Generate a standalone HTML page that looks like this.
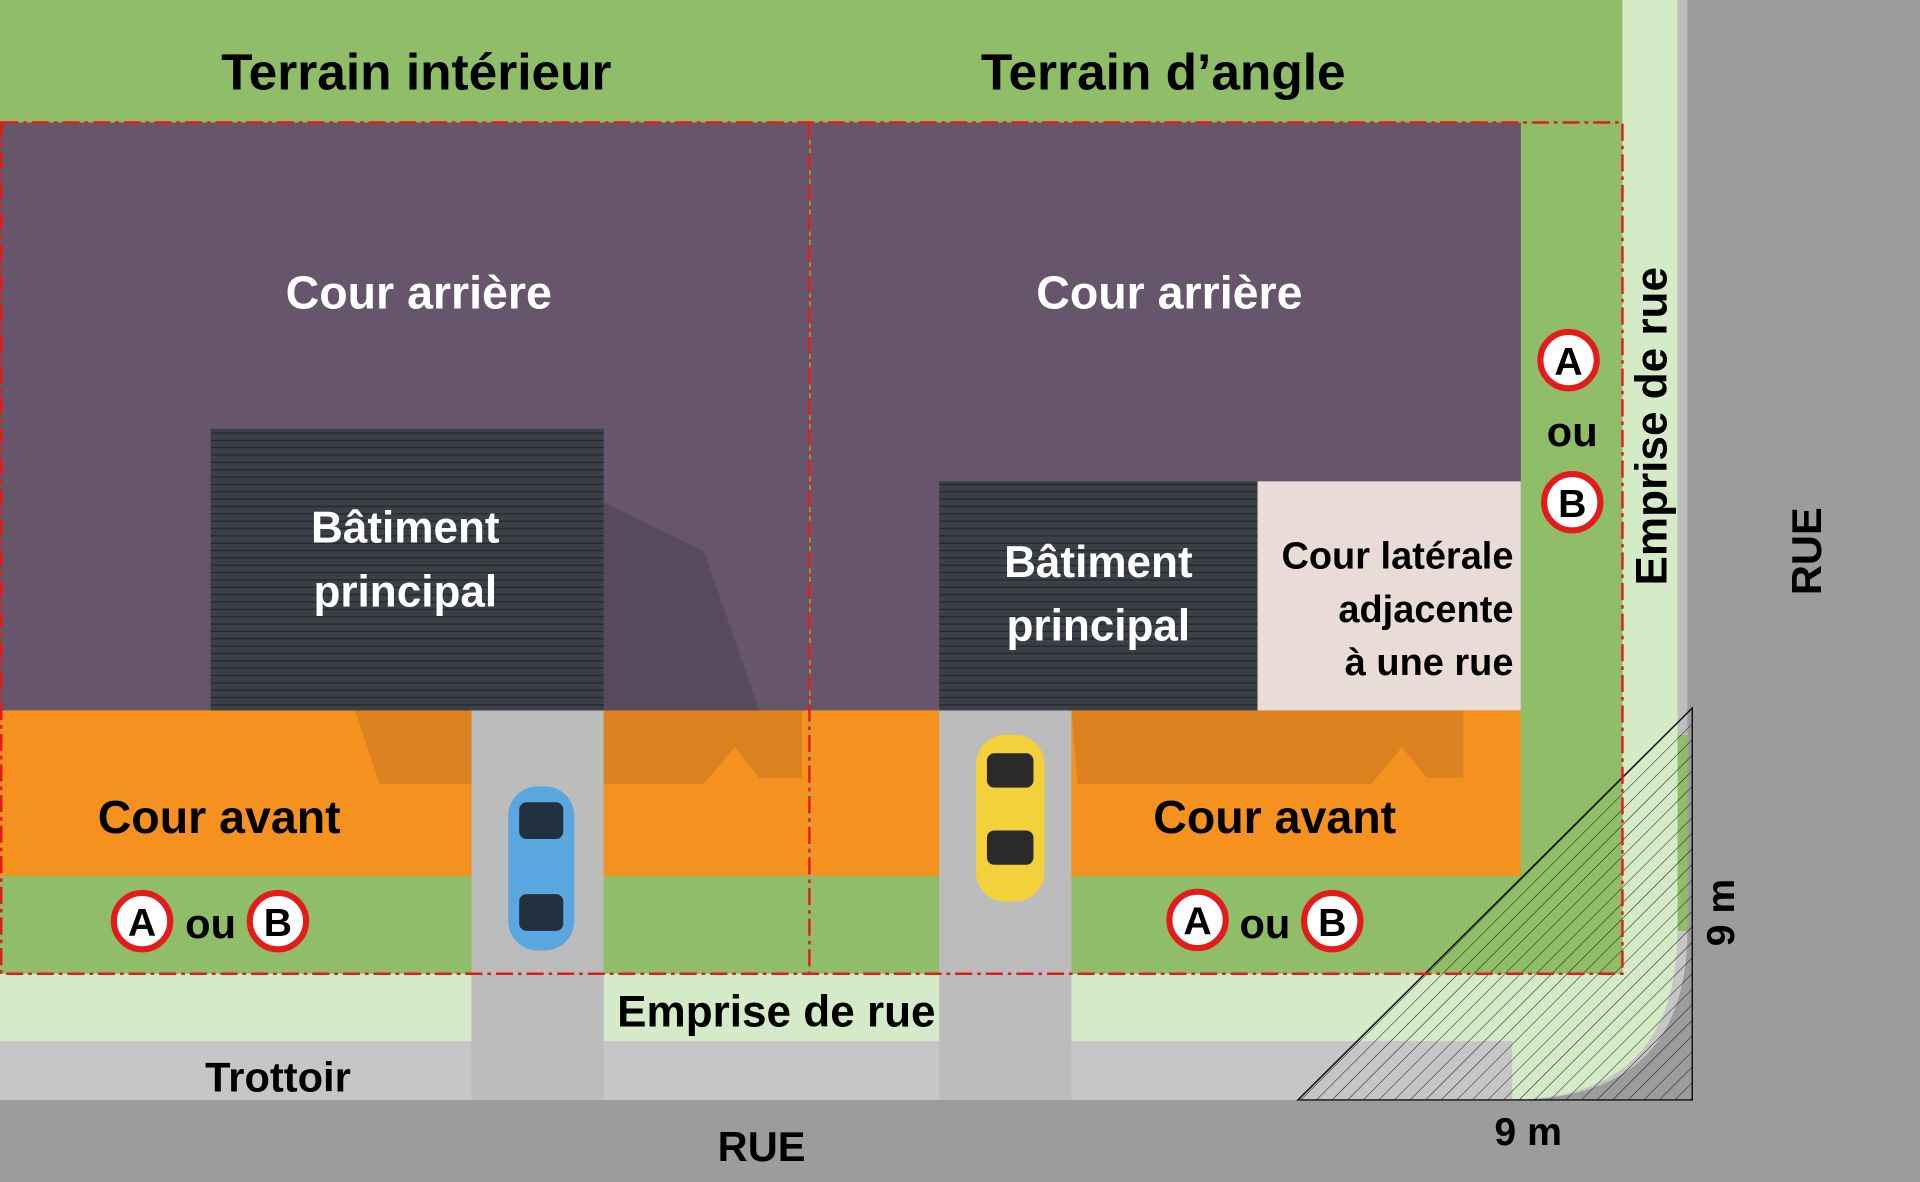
<!DOCTYPE html>
<html><head><meta charset="utf-8"><style>
html,body{margin:0;padding:0;width:1920px;height:1182px;overflow:hidden;background:#8fbd68}
svg{display:block}
text{font-family:"Liberation Sans",sans-serif;font-weight:bold}
</style></head><body>
<svg width="1920" height="1182" viewBox="0 0 1568 965" preserveAspectRatio="none" xmlns="http://www.w3.org/2000/svg">
<defs>
<pattern id="h" patternUnits="userSpaceOnUse" width="9" height="9" patternTransform="rotate(45)">
<line x1="0" y1="0" x2="0" y2="9" stroke="#111" stroke-width="0.8"/>
</pattern>
<pattern id="roof" patternUnits="userSpaceOnUse" width="10" height="6">
<rect width="10" height="6" fill="#3b4047"/><line x1="0" y1="5.5" x2="10" y2="5.5" stroke="#23272c" stroke-width="1"/>
</pattern>
</defs>
<rect width="1568" height="965" fill="#8fbd68"/>
<rect x="1378" y="0" width="190" height="965" fill="#9c9c9c"/>
<rect x="0" y="898" width="1568" height="67" fill="#9c9c9c"/>
<rect x="1232" y="760" width="146" height="140" fill="#9c9c9c"/>
<rect x="1370" y="0" width="8" height="600" fill="#bdbdbd"/>
<path d="M1325 0 H1370 V760 Q1370 898 1232 898 H0 V795 H1325 Z" fill="#d5ebc8"/>
<rect x="0" y="850" width="1235" height="48" fill="#c6c6c6"/>
<path d="M1370 760 Q1370 898 1232 898 L1235 898 Q1378 898 1378 760 Z" fill="#c6c6c6"/>
<rect x="1230" y="100" width="95" height="695" fill="#8fbd68"/>
<rect x="0" y="100" width="661" height="480" fill="#67566b"/>
<rect x="662" y="100" width="580" height="480" fill="#67566b"/>
<rect x="0" y="580" width="661" height="135" fill="#f5921f"/>
<rect x="662" y="580" width="580" height="135" fill="#f5921f"/>
<path d="M290 580 H655 V635 H620 L600 610 L575 640 H310 Z" fill="#d87f1f" opacity="0.9"/>
<path d="M875 580 H1195 V635 H1165 L1145 610 L1120 640 H880 Z" fill="#d87f1f" opacity="0.9"/>
<path d="M493 410 L575 450 L620 580 H493 Z" fill="#5a4a5e"/>
<rect x="385" y="580" width="108" height="318" fill="#bcbcbc"/>
<rect x="767" y="580" width="108" height="318" fill="#bcbcbc"/>
<rect x="172" y="350" width="321" height="230" fill="url(#roof)"/>
<rect x="767" y="393" width="260" height="187" fill="url(#roof)"/>
<rect x="1027" y="393" width="215" height="187" fill="#e9dcd7"/>
<rect x="415" y="642" width="54" height="134" rx="24" fill="#5aa7df"/>
<rect x="424" y="655" width="36" height="30" rx="6" fill="#223040"/>
<rect x="424" y="730" width="36" height="30" rx="6" fill="#223040"/>
<rect x="797" y="600" width="56" height="136" rx="24" fill="#f2d13a"/>
<rect x="806" y="615" width="38" height="28" rx="6" fill="#2a2a2a"/>
<rect x="806" y="678" width="38" height="28" rx="6" fill="#2a2a2a"/>
<path d="M1060 898 L1382 578 L1382 898 Z" fill="url(#h)" stroke="#111" stroke-width="1.2"/>
<g fill="none" stroke="#e41b1b" stroke-width="2" stroke-dasharray="14 4 3 4">
<rect x="1" y="100" width="1324" height="695"/>
<line x1="661" y1="100" x2="661" y2="795"/>
</g>
<g fill="#000" font-size="42">
<text x="340" y="73" text-anchor="middle">Terrain intérieur</text>
<text x="950" y="73" text-anchor="middle">Terrain d’angle</text>
</g>
<g fill="#fff" font-size="38" text-anchor="middle">
<text x="342" y="252">Cour arrière</text>
<text x="955" y="252">Cour arrière</text>
</g>
<g fill="#fff" font-size="36" text-anchor="middle">
<text x="331" y="443">Bâtiment</text>
<text x="331" y="495">principal</text>
<text x="897" y="471">Bâtiment</text>
<text x="897" y="523">principal</text>
</g>
<g fill="#000" font-size="31" text-anchor="end">
<text x="1236" y="464">Cour latérale</text>
<text x="1236" y="508">adjacente</text>
<text x="1236" y="551">à une rue</text>
</g>
<g fill="#000" font-size="38" text-anchor="middle">
<text x="179" y="680">Cour avant</text>
<text x="1041" y="680">Cour avant</text>
</g>
<g fill="#000" font-size="36">
<text x="634" y="838" text-anchor="middle">Emprise de rue</text>
<text x="227" y="891" text-anchor="middle" font-size="34">Trottoir</text>
<text x="622" y="948" text-anchor="middle" font-size="34">RUE</text>
<text x="1248" y="935" text-anchor="middle" font-size="32">9 m</text>
<text transform="translate(1361,348) rotate(-90)" text-anchor="middle">Emprise de rue</text>
<text transform="translate(1487,450) rotate(-90)" text-anchor="middle" font-size="34">RUE</text>
<text transform="translate(1416,745) rotate(-90)" text-anchor="middle" font-size="32">9 m</text>
</g>
<g font-size="32" text-anchor="middle">
<g stroke="#e41b1b" stroke-width="5" fill="#fff">
<circle cx="116" cy="752" r="23"/><circle cx="227" cy="752" r="23"/>
<circle cx="978" cy="751" r="23"/><circle cx="1088" cy="752" r="23"/>
<circle cx="1281" cy="294" r="23"/><circle cx="1284" cy="410" r="23"/>
</g>
<g fill="#000">
<text x="116" y="764">A</text><text x="227" y="764">B</text>
<text x="978" y="763">A</text><text x="1088" y="764">B</text>
<text x="1281" y="306">A</text><text x="1284" y="422">B</text>
<text x="172" y="766" font-size="34">ou</text>
<text x="1033" y="766" font-size="34">ou</text>
<text x="1284" y="364" font-size="34">ou</text>
</g>
</g>
</svg>
</body></html>
